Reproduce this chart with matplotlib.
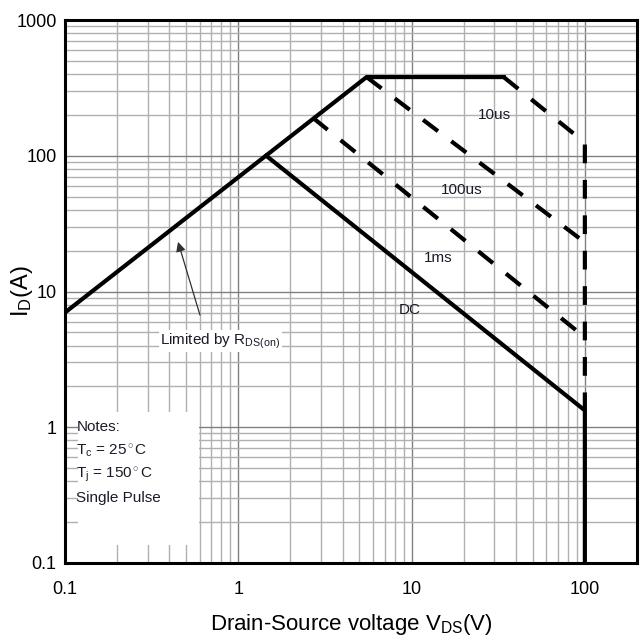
import matplotlib
matplotlib.use("Agg")
import matplotlib.pyplot as plt
from matplotlib.patches import Rectangle

# ── data ──────────────────────────────────────────────────────────────────────
# R_DS(on) limit and the flat current limit
rds_v = [0.1, 5.5, 34]
rds_i = [7.0, 380, 380]
# DC line, ends on the 100 V limit
dc_v = [1.45, 100, 100]
dc_i = [100, 1.33, 0.1]
# pulse lines (dashed)
us10_v = [34, 100, 100]
us10_i = [380, 125, 1.33]
us100_v = [5.5, 100]
us100_i = [380, 23]
ms1_v = [2.7, 100]
ms1_i = [190, 4.6]

curve_labels = ["10us", "100us", "1ms", "DC"]
label_pos = [(30, 200), (19.5, 56), (14.2, 17.7), (9.7, 7.3)]

notes = ["Notes:", r"T$_\mathrm{c}$ = 25$^\circ$C", r"T$_\mathrm{j}$ = 150$^\circ$C", "Single Pulse"]

xticks = [0.1, 1, 10, 100]
yticks = [0.1, 1, 10, 100, 1000]

plt.rcParams["font.family"] = ["Liberation Sans", "DejaVu Sans"]
plt.rcParams["mathtext.fontset"] = "custom"
plt.rcParams["mathtext.rm"] = "Liberation Sans"
plt.rcParams["mathtext.it"] = "Liberation Sans"
txt_color = "#1a1a2a"

fig = plt.figure(figsize=(6.43, 6.42), dpi=100)
ax = fig.add_axes([0.1011, 0.1231, 0.8896, 0.8457])
ax.set_xscale("log")
ax.set_yscale("log")
ax.set_xlim(0.1, 200)
ax.set_ylim(0.1, 1000)

ax.grid(True, which="major", color="#808080", linewidth=1.0, zorder=0)
ax.grid(True, which="minor", color="#b0b0b0", linewidth=1.0, zorder=0)
ax.set_axisbelow(True)

# white box behind the notes
ax.add_patch(Rectangle((0.119, 0.135), 0.59 - 0.119, 1.29 - 0.135,
                       facecolor="white", edgecolor="none", zorder=1))

solid = dict(color="black", linewidth=3, solid_joinstyle="miter", zorder=3)
dashed = dict(color="black", linewidth=3, linestyle=(0, (4.5, 4)), zorder=3)
ax.plot(rds_v, rds_i, **solid)
ax.plot(dc_v, dc_i, **solid)
ax.plot(us10_v, us10_i, **dashed)
ax.plot(us100_v, us100_i, **dashed)
ax.plot(ms1_v, ms1_i, **dashed)

for lab, (x, y) in zip(curve_labels, label_pos):
    ax.text(x, y, lab, fontsize=11, color=txt_color,
            ha="center", va="center", zorder=4)

ax.text(0.355, 4.3, "Limited by R$_{\\mathrm{DS(on)}}$", fontsize=11, color=txt_color,
        ha="left", va="center", zorder=4,
        bbox=dict(facecolor="white", edgecolor="none", pad=1))
ax.annotate("", xy=(0.449, 23.2), xytext=(0.601, 6.7),
            arrowprops=dict(arrowstyle="-|>", color="#303030", lw=0.9,
                            mutation_scale=14, shrinkA=0, shrinkB=0),
            zorder=4)

for k, line in enumerate(notes):
    ax.text(0.02, 0.250 - k * 0.0435, line, transform=ax.transAxes,
            fontsize=11, color=txt_color, ha="left", va="center", zorder=4)

ax.set_xticks(xticks)
ax.set_xticklabels(["0.1", "1", "10", "100"])
ax.set_yticks(yticks)
ax.set_yticklabels(["0.1", "1", "10", "100", "1000"])
ax.tick_params(which="both", length=0, labelsize=13)
ax.tick_params(axis="x", pad=13)
ax.tick_params(axis="y", pad=6)

for s in ax.spines.values():
    s.set_linewidth(2.2)
    s.set_color("black")
    s.set_zorder(5)

ax.set_xlabel("Drain-Source voltage V$_{\\mathrm{DS}}$(V)", fontsize=16, labelpad=10)
ax.set_ylabel("I$_{\\mathrm{D}}$(A)", fontsize=17)
ax.yaxis.set_label_coords(-0.053, 0.5)

fig.savefig("out.png", dpi=100)
